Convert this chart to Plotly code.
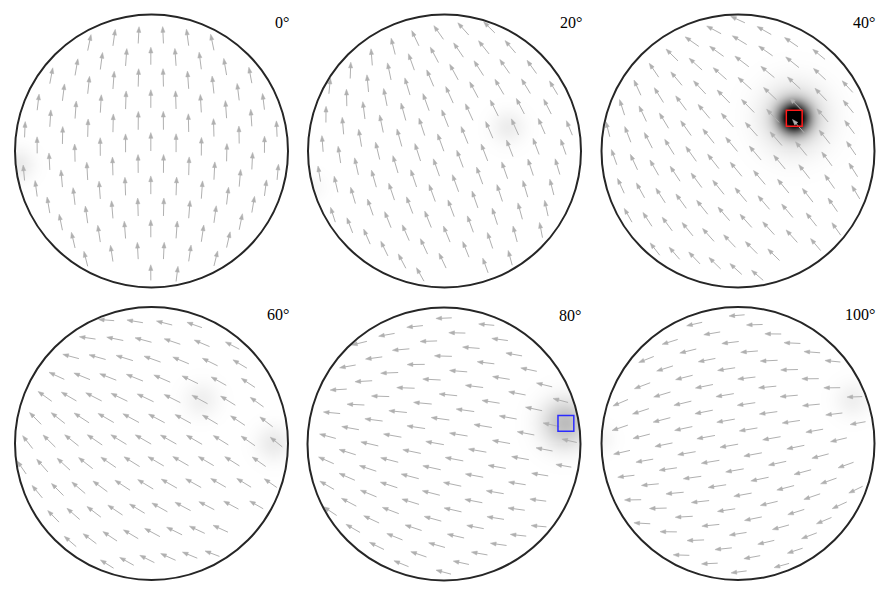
import numpy as np
import plotly.graph_objects as go

# ---------------- data ----------------
panel_labels = ["0°", "20°", "40°", "60°", "80°", "100°"]
field_angle_deg = [0, 20, 40, 60, 80, 100]       # arrow direction at the disc centre (CCW from up)
sink_distance = [1.9, 1.5, 1.5, 1.5, 1.6, 1.8]    # where arrows converge (disc radii)
source_distance = [1.9, 2.1, 2.1, 2.1, 2.5, 1.8]  # where arrows diverge from (disc radii)

# grey blurred spots (panel index, centre in disc units, darkness, width)
spot_panel = [0, 1, 1, 2, 2, 3, 3, 4, 5, 5]
spot_x = [-0.98, 0.47, -0.97, 0.41, 0.41, 0.37, 0.90, 0.89, 0.84, -1.00]
spot_y = [-0.10, 0.17, -0.26, 0.24, 0.24, 0.32, 0.00, 0.15, 0.32, 0.03]
spot_amp = [0.08, 0.07, 0.03, 1.10, 0.22, 0.06, 0.08, 0.26, 0.06, 0.04]
spot_sigma = [0.08, 0.085, 0.07, 0.075, 0.16, 0.09, 0.09, 0.12, 0.09, 0.07]

# highlighted squares
box_panel = [2, 4]
box_x = [0.412, 0.893]
box_y = [0.240, 0.151]
box_color = ["#ff1a1a", "#2b2bff"]

# ---------------- layout ----------------
W, H = 890, 596
R = 136.5          # disc radius in px
B = 145            # half size of each panel box in px
centers = [(151.5, 151), (444.5, 151), (738, 151),
           (151.5, 443.5), (444, 444), (738, 443.5)]
ARROW = "#b0b0b0"

fig = go.Figure()


def field_dir(px, py, a, dk, ds):
    ux, uy = -np.sin(a), np.cos(a)
    kx, ky = dk * ux, dk * uy
    sx, sy = -ds * ux, -ds * uy
    d1 = (px - sx) ** 2 + (py - sy) ** 2
    d2 = (kx - px) ** 2 + (ky - py) ** 2
    ex = (px - sx) / d1 + (kx - px) / d2
    ey = (py - sy) / d1 + (ky - py) / d2
    n = np.hypot(ex, ey)
    return ex / n, ey / n


def grid(a):
    dy, dx, c = 0.158, 0.185, 0.25
    xs, ys = [], []
    for k in range(-9, 10):
        off = (k % 2) * dx / 2
        for xx in np.arange(-1.3, 1.3001, dx) + off:
            yy = k * dy - c * xx * xx
            if xx * xx + yy * yy < 0.975 ** 2:
                xs.append(xx * np.cos(a) - yy * np.sin(a))
                ys.append(xx * np.sin(a) + yy * np.cos(a))
    return np.array(xs), np.array(ys)


shapes = []
annotations = []
gx = np.linspace(-1.0, 1.0, 273)
GX, GY = np.meshgrid(gx, gx)

for i in range(6):
    cx, cy = centers[i]
    xa = "x" if i == 0 else f"x{i + 1}"
    ya = "y" if i == 0 else f"y{i + 1}"
    lay_x = "xaxis" if i == 0 else f"xaxis{i + 1}"
    lay_y = "yaxis" if i == 0 else f"yaxis{i + 1}"
    rng = B / R
    fig.update_layout({
        lay_x: dict(domain=[(cx - B) / W, (cx + B) / W], range=[-rng, rng],
                    visible=False, fixedrange=True, anchor=ya),
        lay_y: dict(domain=[(H - cy - B) / H, (H - cy + B) / H], range=[-rng, rng],
                    visible=False, fixedrange=True, anchor=xa),
    })

    # spots
    Z = np.zeros_like(GX)
    for p, sx, sy, am, sg in zip(spot_panel, spot_x, spot_y, spot_amp, spot_sigma):
        if p == i:
            Z += am * np.exp(-((GX - sx) ** 2 + (GY - sy) ** 2) / (2 * sg * sg))
    Z = np.minimum(Z, 1.0)
    Z[GX ** 2 + GY ** 2 > 1.0] = np.nan
    fig.add_trace(go.Heatmap(x=gx, y=gx, z=Z, zmin=0, zmax=1,
                             colorscale=[[0, "#ffffff"], [1, "#000000"]],
                             showscale=False, hoverinfo="skip",
                             xaxis=xa, yaxis=ya))

    # arrows
    a = np.deg2rad(field_angle_deg[i])
    px, py = grid(a)
    ux, uy = field_dir(px, py, a, sink_distance[i], source_distance[i])
    rho2 = px ** 2 + py ** 2
    L = 0.135 * (0.78 + 0.22 * np.sqrt(np.clip(1 - rho2, 0, 1)))
    tx, ty = px + L * ux, py + L * uy
    keep = tx ** 2 + ty ** 2 < 1.0
    px, py, ux, uy, tx, ty = px[keep], py[keep], ux[keep], uy[keep], tx[keep], ty[keep]
    hl, hw = 0.042, 0.015
    bx, by = tx - hl * ux, ty - hl * uy
    sxs, sys_ = [], []
    hxs, hys = [], []
    for j in range(len(px)):
        sxs += [px[j], tx[j] - 0.7 * hl * ux[j], None]
        sys_ += [py[j], ty[j] - 0.7 * hl * uy[j], None]
        nx, ny = -uy[j], ux[j]
        hxs += [tx[j], bx[j] + hw * nx, bx[j] - hw * nx, tx[j], None]
        hys += [ty[j], by[j] + hw * ny, by[j] - hw * ny, ty[j], None]
    fig.add_trace(go.Scatter(x=sxs, y=sys_, mode="lines",
                             line=dict(color=ARROW, width=1),
                             hoverinfo="skip", xaxis=xa, yaxis=ya))
    fig.add_trace(go.Scatter(x=hxs, y=hys, mode="lines", fill="toself",
                             fillcolor=ARROW, line=dict(color=ARROW, width=0.5),
                             hoverinfo="skip", xaxis=xa, yaxis=ya))

    # disc outline
    shapes.append(dict(type="circle", xref=xa, yref=ya, x0=-1, x1=1, y0=-1, y1=1,
                       line=dict(color="#262626", width=2), layer="above"))
    annotations.append(dict(x=1.02, y=0.945, xref=xa, yref=ya, text=panel_labels[i],
                            showarrow=False, xanchor="right", yanchor="middle",
                            font=dict(family="Liberation Serif", size=16, color="black")))

for p, bxx, byy, col in zip(box_panel, box_x, box_y, box_color):
    xa = f"x{p + 1}" if p else "x"
    ya = f"y{p + 1}" if p else "y"
    h = 0.058
    shapes.append(dict(type="rect", xref=xa, yref=ya, x0=bxx - h, x1=bxx + h,
                       y0=byy - h, y1=byy + h, line=dict(color=col, width=1.5),
                       layer="above"))

fig.update_layout(width=W, height=H, margin=dict(l=0, r=0, t=0, b=0),
                  paper_bgcolor="white", plot_bgcolor="white",
                  showlegend=False, shapes=shapes, annotations=annotations)

fig.write_html("out.html")
